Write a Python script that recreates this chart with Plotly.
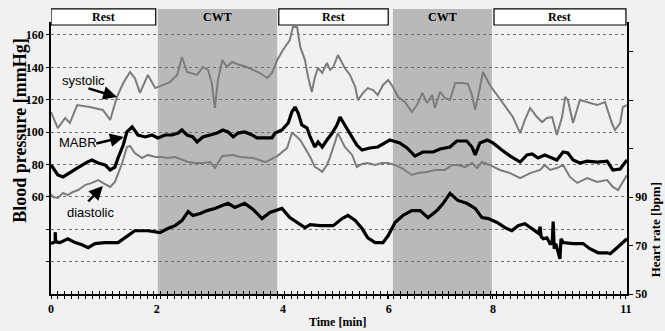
import plotly.graph_objects as go

# ---------------- data ----------------
sys_t = [0, 0.13, 0.27, 0.36, 0.50, 0.74, 0.99, 1.13, 1.26, 1.38, 1.51, 1.60, 1.70, 1.85, 1.99, 2.14, 2.27, 2.41, 2.50, 2.60,
         2.79, 2.90, 3.00, 3.07, 3.13, 3.19, 3.27, 3.36, 3.46, 3.61, 3.74, 3.86, 3.99, 4.13, 4.22, 4.32, 4.43, 4.56, 4.62, 4.70,
         4.76, 4.85, 4.91, 4.98, 5.04, 5.10, 5.18, 5.27, 5.33, 5.39, 5.48, 5.56, 5.61, 5.71, 5.81, 5.86, 5.96, 6.05, 6.15, 6.24,
         6.34, 6.44, 6.53, 6.63, 6.76, 6.89, 6.99, 7.09, 7.18, 7.28, 7.33, 7.43, 7.52, 7.62, 7.72, 7.85, 7.96, 8.04, 8.10, 8.19,
         8.25, 8.38, 8.52, 8.67, 8.82, 8.96, 9.05, 9.15, 9.28, 9.38, 9.47, 9.57, 9.66, 9.76, 9.82, 9.87, 9.97, 10.10, 10.23, 10.43,
         10.58, 10.71, 10.77, 10.87, 10.92, 11.0]
systolic = [112.4, 102.5, 108.7, 105.6, 116.7, 115.5, 113.7, 107.5, 121.7, 130.3, 137.1, 133.4, 124.2, 135.3, 127.2, 129.1, 130.9, 135.3, 146.4, 137.1,
            135.3, 140.2, 138.4, 130.3, 114.9, 132.2, 144.5, 140.2, 143.3, 141.4, 140.2, 138.4, 136.5, 133.4, 136.5, 144.5, 150.7, 156.9, 164.9, 164.9,
            152.6, 144.5, 134.0, 124.8, 134.0, 139.6, 136.5, 142.7, 138.4, 140.2, 147.6, 142.7, 139.6, 135.3, 127.9, 119.8, 124.2, 127.2, 126.0, 122.9,
            129.1, 132.2, 127.9, 121.7, 118.6, 112.4, 116.7, 124.2, 118.0, 122.9, 114.9, 124.8, 121.1, 119.8, 130.3, 130.3, 129.7, 122.9, 113.7, 127.2,
            137.1, 129.1, 122.9, 115.5, 109.3, 99.4, 107.5, 114.9, 109.3, 106.2, 108.7, 109.3, 98.2, 109.3, 121.7, 119.8, 105.6, 119.8, 118.6, 116.7,
            118.6, 105.6, 101.3, 105.6, 115.5, 116.7]

mabr_t = [0, 0.13, 0.23, 0.36, 0.50, 0.69, 0.78, 0.90, 1.03, 1.13, 1.22, 1.28, 1.38, 1.45, 1.55, 1.66, 1.80, 1.93, 2.04, 2.18,
          2.31, 2.43, 2.50, 2.60, 2.71, 2.79, 2.90, 3.04, 3.17, 3.28, 3.38, 3.48, 3.57, 3.70, 3.84, 3.93, 4.05, 4.22, 4.28, 4.41,
          4.53, 4.60, 4.66, 4.72, 4.79, 4.89, 4.95, 5.04, 5.10, 5.18, 5.27, 5.37, 5.46, 5.52, 5.61, 5.71, 5.84, 5.94, 6.09, 6.24,
          6.47, 6.66, 6.80, 6.95, 7.10, 7.30, 7.43, 7.62, 7.75, 7.94, 8.04, 8.10, 8.19, 8.33, 8.44, 8.61, 8.77, 8.96, 9.09, 9.19,
          9.30, 9.43, 9.57, 9.66, 9.78, 9.87, 9.97, 10.10, 10.24, 10.43, 10.62, 10.73, 10.87, 11.0]
mabr = [79.7, 73.5, 72.3, 74.7, 77.8, 81.5, 82.8, 80.9, 79.7, 76.6, 78.4, 84.0, 92.0, 100.1, 103.2, 98.2, 97.0, 98.2, 96.4, 98.2,
        98.2, 99.4, 101.3, 98.2, 97.0, 93.9, 97.0, 98.2, 99.4, 101.3, 100.1, 97.0, 99.4, 100.1, 98.2, 96.4, 96.4, 96.4, 99.4, 101.3,
        105.6, 112.4, 115.5, 111.8, 104.4, 102.5, 97.0, 90.8, 93.9, 90.8, 95.1, 99.4, 104.4, 109.3, 104.4, 99.4, 92.0, 88.9, 90.2, 90.8,
        95.1, 93.3, 90.2, 85.2, 87.7, 87.7, 89.6, 90.8, 94.5, 94.5, 90.8, 85.9, 93.3, 95.1, 93.3, 88.9, 85.2, 81.5, 85.9, 86.5,
        84.0, 85.9, 84.0, 82.8, 87.7, 87.1, 82.8, 80.9, 82.1, 81.5, 82.1, 76.6, 77.2, 82.8]

dia_t = [0, 0.04, 0.13, 0.23, 0.32, 0.42, 0.52, 0.65, 0.78, 0.90, 0.99, 1.13, 1.22, 1.28, 1.36, 1.45, 1.51, 1.60, 1.74, 1.85,
         1.99, 2.12, 2.23, 2.37, 2.50, 2.62, 2.75, 2.90, 3.04, 3.13, 3.27, 3.48, 3.61, 3.86, 4.09, 4.32, 4.51, 4.60, 4.66, 4.76,
         4.85, 4.95, 5.04, 5.08, 5.18, 5.27, 5.33, 5.48, 5.61, 5.75, 5.84, 5.94, 6.05, 6.19, 6.32, 6.44, 6.57, 6.70, 6.89, 7.01,
         7.18, 7.33, 7.52, 7.66, 7.77, 7.91, 8.04, 8.14, 8.23, 8.38, 8.57, 8.77, 8.96, 9.15, 9.34, 9.43, 9.53, 9.66, 9.78, 9.91,
         10.05, 10.24, 10.43, 10.62, 10.73, 10.83, 10.92, 11.0]
diastolic = [61.8, 59.9, 59.3, 62.4, 61.1, 63.0, 64.2, 67.3, 68.6, 70.4, 68.6, 66.1, 69.2, 74.7, 80.9, 90.8, 91.4, 87.1, 84.0, 85.9,
             84.6, 84.6, 84.0, 84.6, 82.8, 81.5, 80.9, 80.9, 81.5, 77.8, 85.2, 85.9, 84.6, 84.0, 81.5, 85.2, 90.2, 99.4, 98.2, 95.1,
             90.2, 84.6, 78.4, 77.8, 75.4, 79.7, 84.6, 99.4, 90.8, 85.9, 78.4, 80.3, 80.9, 79.7, 80.9, 80.9, 79.7, 77.8, 73.5, 74.7,
             75.4, 76.6, 76.6, 79.7, 79.7, 78.4, 80.9, 77.8, 81.5, 79.7, 76.6, 74.7, 71.6, 74.7, 76.6, 79.7, 76.6, 77.8, 79.7, 72.3,
             68.6, 71.6, 69.2, 70.4, 66.1, 64.2, 69.2, 73.5]

hr_t = [0, 0.08, 0.08, 0.09, 0.17, 0.32, 0.46, 0.59, 0.71, 0.84, 1.03, 1.28, 1.47, 1.60, 1.85, 2.08, 2.23, 2.37, 2.50, 2.62,
        2.71, 2.85, 2.98, 3.13, 3.27, 3.38, 3.51, 3.70, 3.86, 4.03, 4.18, 4.41, 4.56, 4.70, 4.85, 4.95, 5.14, 5.39, 5.56, 5.67,
        5.81, 5.94, 6.05, 6.19, 6.34, 6.44, 6.57, 6.72, 6.89, 7.05, 7.20, 7.37, 7.49, 7.62, 7.77, 7.94, 8.10, 8.23, 8.35, 8.52,
        8.67, 8.80, 8.92, 9.05, 9.15, 9.24, 9.32, 9.34, 9.36, 9.40, 9.47, 9.53, 9.57, 9.59, 9.61, 9.64, 9.72, 9.74, 9.78, 9.97,
        10.16, 10.29, 10.45, 10.62, 10.68, 10.81, 10.92, 11.0]
heart_rate = [70.8, 71.5, 75.5, 71.5, 71.2, 72.8, 71.2, 70.3, 69.1, 70.8, 71.2, 71.2, 74.1, 76.1, 76.1, 75.3, 77.0, 78.2, 80.3, 84.0,
              82.4, 83.2, 84.4, 85.3, 86.5, 87.4, 85.7, 87.4, 84.9, 81.1, 83.6, 85.3, 81.5, 79.5, 77.4, 78.6, 78.2, 78.2, 81.1, 82.4,
              80.3, 77.0, 73.2, 71.2, 71.2, 74.1, 79.5, 82.4, 84.4, 84.4, 81.5, 84.4, 87.4, 91.5, 88.6, 87.4, 85.3, 81.5, 81.1, 79.5,
              77.4, 76.1, 78.2, 79.0, 77.4, 76.1, 74.9, 77.8, 73.7, 72.8, 73.2, 70.8, 70.8, 79.9, 68.7, 70.8, 64.5, 72.8, 71.2, 70.8,
              70.8, 68.7, 67.0, 67.0, 66.6, 69.1, 71.2, 72.8]

phase_labels = ["Rest", "CWT", "Rest", "CWT", "Rest"]
phase_start = [0.0, 2.04, 4.35, 6.53, 8.46]
phase_end = [2.0, 4.32, 6.44, 8.42, 10.98]

x_tickvals = [0, 2.02, 4.43, 6.45, 8.44, 10.98]
x_ticktext = ["0", "2", "4", "6", "8", "11"]
bp_tickvals = [20, 40, 60, 80, 100, 120, 140, 160]
bp_ticktext = ["", "", "60", "80", "100", "120", "140", "160"]
hr_tickvals = [50, 70, 90, 110, 130, 150]
hr_ticktext = ["50", "70", "90", "", "", ""]

# ---------------- figure ----------------
SERIF = "Liberation Serif, Times New Roman, serif"
SANS = "Liberation Sans, Arial, sans-serif"
GRAY = "#7c7c7c"

fig = go.Figure()
fig.add_trace(go.Scatter(x=sys_t, y=systolic, mode="lines", line=dict(color=GRAY, width=2), name="systolic"))
fig.add_trace(go.Scatter(x=dia_t, y=diastolic, mode="lines", line=dict(color=GRAY, width=2), name="diastolic"))
fig.add_trace(go.Scatter(x=mabr_t, y=mabr, mode="lines", line=dict(color="black", width=3.2), name="MABR"))
fig.add_trace(go.Scatter(x=hr_t, y=heart_rate, mode="lines", line=dict(color="black", width=3.2),
                         name="Heart rate", yaxis="y2"))
fig.add_trace(go.Scatter(x=[], y=[], xaxis="x2", yaxis="y", showlegend=False))

shapes = []
annotations = []
for lab, s, e in zip(phase_labels, phase_start, phase_end):
    if lab == "CWT":
        shapes.append(dict(type="rect", xref="x", yref="paper", x0=s, x1=e, y0=0, y1=1.048,
                           fillcolor="#b9b9b9", line=dict(width=0), layer="below"))
    else:
        shapes.append(dict(type="rect", xref="x", yref="paper", x0=s, x1=e, y0=0.989, y1=1.048,
                           fillcolor="white", line=dict(color="black", width=1.2), layer="above"))
    annotations.append(dict(x=(s + e) / 2, y=1.018, xref="x", yref="paper", text=lab, showarrow=False,
                            font=dict(family=SERIF, size=12, color="black", weight="bold"),
                            xanchor="center", yanchor="middle"))

# series labels with arrows
lab_font = dict(family=SANS, size=13, color="black")
annotations += [
    dict(x=0.63, y=131.6, text="systolic", showarrow=False, font=lab_font),
    dict(x=1.26, y=121.7, text="", showarrow=True, ax=-30, ay=-9, arrowhead=2, arrowsize=1.1, arrowwidth=2.5, arrowcolor="black"),
    dict(x=0.52, y=93.3, text="MABR", showarrow=False, font=lab_font),
    dict(x=1.39, y=97.0, text="", showarrow=True, ax=-29, ay=7, arrowhead=2, arrowsize=1.1, arrowwidth=2.5, arrowcolor="black"),
    dict(x=0.76, y=50.6, text="diastolic", showarrow=False, font=lab_font),
    dict(x=0.99, y=66.7, text="", showarrow=True, ax=-16, ay=17, arrowhead=2, arrowsize=1.1, arrowwidth=2.5, arrowcolor="black"),
]
# axis titles
title_font = dict(family=SERIF, color="black", weight="bold")
annotations += [
    dict(x=0.498, y=-0.103, xref="paper", yref="paper", text="Time [min]", showarrow=False,
         font=dict(size=12, **title_font), xanchor="center", yanchor="middle"),
    dict(x=-0.054, y=0.60, xref="paper", yref="paper", text="Blood pressure [mmHg]", showarrow=False, textangle=-90,
         font=dict(size=18, **title_font), xanchor="center", yanchor="middle"),
    dict(x=1.049, y=0.235, xref="paper", yref="paper", text="Heart rate [bpm]", showarrow=False, textangle=-90,
         font=dict(size=13, **title_font), xanchor="center", yanchor="middle"),
]

tick_font = dict(family=SERIF, size=12, color="black", weight="bold")
fig.update_layout(
    width=665, height=331, autosize=False,
    margin=dict(l=51, r=38, t=22, b=37, pad=0),
    paper_bgcolor="#f1f1f1", plot_bgcolor="rgba(0,0,0,0)",
    showlegend=False,
    shapes=shapes, annotations=annotations,
    xaxis=dict(range=[0, 11], tickmode="array", tickvals=x_tickvals, ticktext=x_ticktext,
               ticks="outside", ticklen=3, tickcolor="black", tickfont=tick_font,
               showline=True, linecolor="black", linewidth=1.5, showgrid=False, zeroline=False,
               minor=dict(tickmode="linear", tick0=0, dtick=0.131, ticks="outside", ticklen=3,
                          tickcolor="black", showgrid=False)),
    xaxis2=dict(range=[0, 11], overlaying="x", anchor="y", side="bottom", showticklabels=False,
                showline=False, showgrid=False, zeroline=False, tickmode="linear", tick0=0, dtick=0.131,
                ticks="inside", ticklen=3, tickcolor="black"),
    yaxis=dict(range=[0, 168], tickmode="array", tickvals=bp_tickvals, ticktext=bp_ticktext,
               ticks="outside", ticklen=3, tickcolor="black", tickfont=tick_font,
               showline=True, linecolor="black", linewidth=1.5, zeroline=False,
               showgrid=True, gridcolor="#707070", gridwidth=1, griddash="dot"),
    yaxis2=dict(range=[50, 162.2], overlaying="y", side="right", anchor="x", tickmode="array",
                tickvals=hr_tickvals, ticktext=hr_ticktext, ticks="outside", ticklen=4, tickcolor="black",
                tickfont=tick_font, showline=True, linecolor="black", linewidth=1.5,
                showgrid=False, zeroline=False),
)

fig.write_html("out.html", config={"displayModeBar": False},
               post_script="document.body.style.margin='0';document.body.style.background='#f1f1f1';")
